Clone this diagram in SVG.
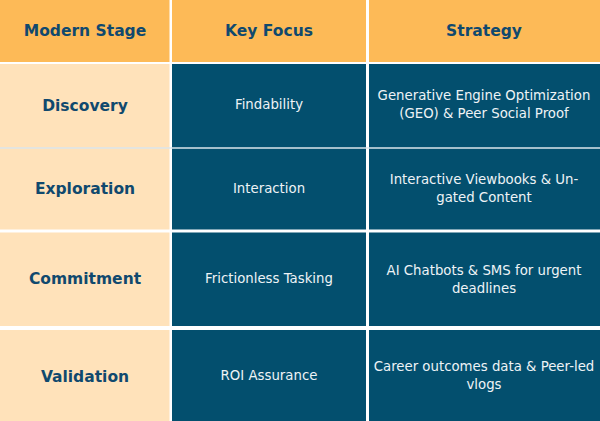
<svg xmlns="http://www.w3.org/2000/svg" width="600" height="421" viewBox="0 0 600 421">
<style>
.hd{fill:#FDBA57}
.st{fill:#FFE2BA}
.dk{fill:#034F6E}
.ht{font-family:"DejaVu Sans",sans-serif;font-weight:bold;font-size:15.5px;fill:#10496E;text-anchor:middle}
.bt{font-family:"DejaVu Sans",sans-serif;font-size:13.3px;fill:#EEF3F6;text-anchor:middle}
.ln{stroke:#C9D9E2;stroke-width:1}
</style>
<rect x="0" y="0" width="600" height="421" fill="#FFFFFF"/>
<g id="header">
<rect class="hd" x="0" y="0" width="169.5" height="62"/>
<rect class="hd" x="172" y="0" width="194" height="62"/>
<rect class="hd" x="369" y="0" width="231" height="62"/>
<text class="ht" x="85" y="36">Modern Stage</text>
<text class="ht" x="269" y="36">Key Focus</text>
<text class="ht" x="484" y="36">Strategy</text>
</g>
<g id="row-discovery">
<rect class="st" x="0" y="64" width="169.5" height="83.5"/>
<rect class="dk" x="172" y="64" width="194" height="83.5"/>
<rect class="dk" x="369" y="64" width="231" height="83.5"/>
<text class="ht" x="85" y="111">Discovery</text>
<text class="bt" x="269" y="109">Findability</text>
<text class="bt" x="484" y="99.5">Generative Engine Optimization</text>
<text class="bt" x="484" y="118">(GEO) &amp; Peer Social Proof</text>
</g>
<g id="row-exploration">
<rect class="st" x="0" y="148.5" width="169.5" height="81"/>
<rect class="dk" x="172" y="148.5" width="194" height="81"/>
<rect class="dk" x="369" y="148.5" width="231" height="81"/>
<text class="ht" x="85" y="194">Exploration</text>
<text class="bt" x="269" y="192.5">Interaction</text>
<text class="bt" x="484" y="183.5">Interactive Viewbooks &amp; Un-</text>
<text class="bt" x="484" y="202">gated Content</text>
</g>
<g id="row-commitment">
<rect class="st" x="0" y="232.5" width="169.5" height="93.5"/>
<rect class="dk" x="172" y="232.5" width="194" height="93.5"/>
<rect class="dk" x="369" y="232.5" width="231" height="93.5"/>
<text class="ht" x="85" y="284">Commitment</text>
<text class="bt" x="269" y="282.5">Frictionless Tasking</text>
<text class="bt" x="484" y="274.5">AI Chatbots &amp; SMS for urgent</text>
<text class="bt" x="484" y="293">deadlines</text>
</g>
<g id="row-validation">
<rect class="st" x="0" y="330" width="169.5" height="91"/>
<rect class="dk" x="172" y="330" width="194" height="91"/>
<rect class="dk" x="369" y="330" width="231" height="91"/>
<text class="ht" x="85" y="381.5">Validation</text>
<text class="bt" x="269" y="379.5">ROI Assurance</text>
<text class="bt" x="484" y="370.5">Career outcomes data &amp; Peer-led</text>
<text class="bt" x="484" y="389">vlogs</text>
</g>
<g id="connectors">
<line class="ln" x1="0" y1="148" x2="600" y2="148"/>
</g>
</svg>
